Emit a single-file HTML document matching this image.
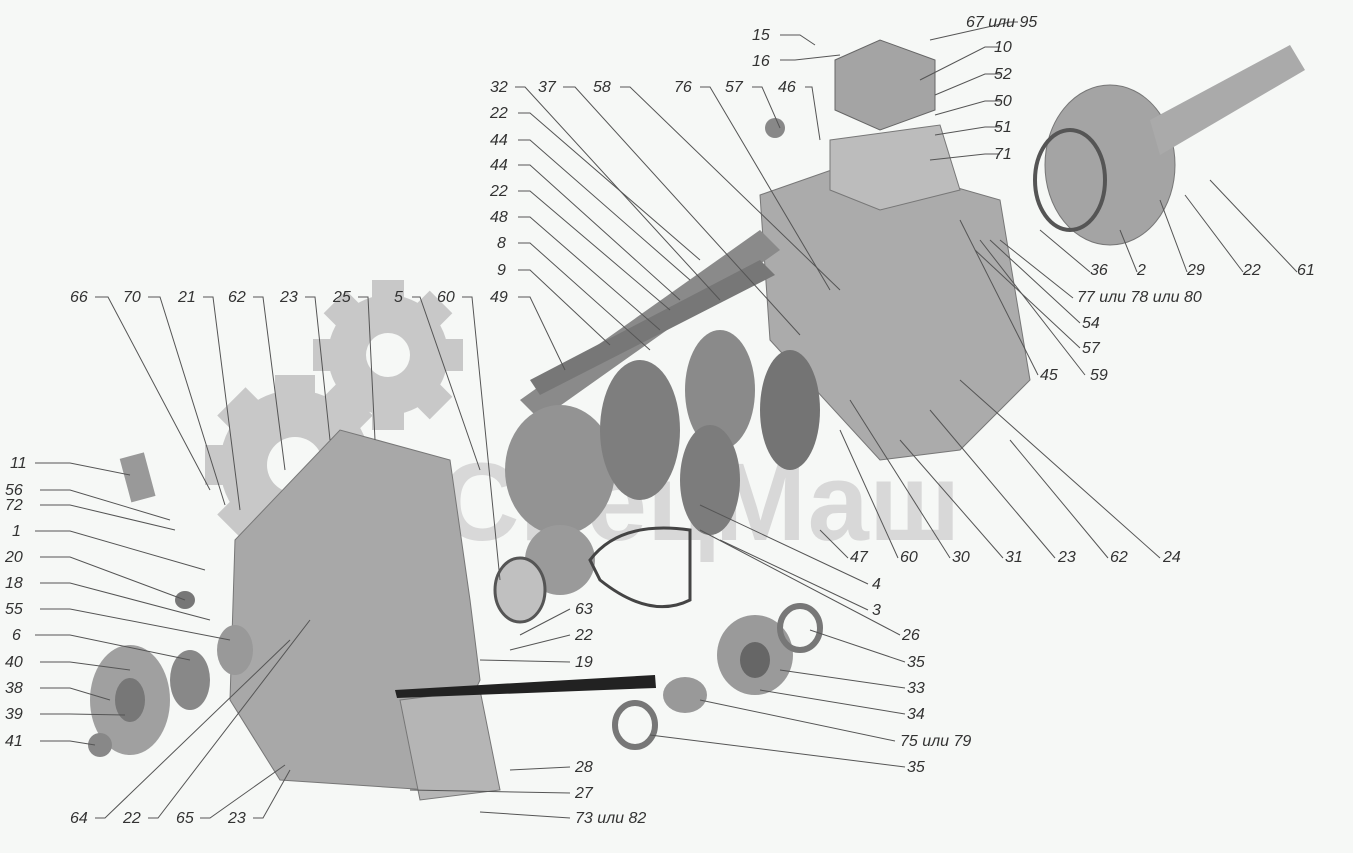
<!DOCTYPE html>
<html><head><meta charset="utf-8"><style>
html,body{margin:0;padding:0;background:#f6f8f6;}
svg{display:block}
text{font-family:"Liberation Sans",sans-serif;font-style:italic;font-size:16px;fill:#333;}
.l{stroke:#555;stroke-width:1;fill:none}
</style></head><body>
<svg width="1353" height="853" viewBox="0 0 1353 853" xmlns="http://www.w3.org/2000/svg">
<rect width="1353" height="853" fill="#f6f8f6"/>
<g fill="#c8c8c8">
<circle cx="388" cy="355" r="60"/>
<rect x="372" y="280" width="32" height="150"/><rect x="313" y="339" width="150" height="32"/>
<rect x="372" y="280" width="32" height="150" transform="rotate(45 388 355)"/><rect x="372" y="280" width="32" height="150" transform="rotate(-45 388 355)"/>
<circle cx="295" cy="465" r="75"/>
<rect x="275" y="375" width="40" height="180"/><rect x="205" y="445" width="180" height="40"/>
<rect x="275" y="375" width="40" height="180" transform="rotate(45 295 465)"/><rect x="275" y="375" width="40" height="180" transform="rotate(-45 295 465)"/>
</g>
<circle cx="388" cy="355" r="22" fill="#f6f8f6"/><circle cx="295" cy="465" r="28" fill="#f6f8f6"/>
<text x="440" y="540" style="font-size:110px;font-style:normal;fill:#d8d8d8;font-weight:bold">СпецМаш</text>
<polygon points="760,195 860,160 1000,200 1030,380 960,450 880,460 770,340" fill="#ababab" stroke="#777"/>
<polygon points="830,140 940,125 960,190 880,210 830,190" fill="#bcbcbc" stroke="#777"/>
<polygon points="835,60 880,40 935,60 935,110 880,130 835,110" fill="#a4a4a4" stroke="#666"/>
<polygon points="520,400 760,230 780,250 540,420" fill="#8a8a8a"/>
<polygon points="530,380 760,260 775,275 540,395" fill="#777"/>
<ellipse cx="560" cy="470" rx="55" ry="65" fill="#939393"/>
<ellipse cx="640" cy="430" rx="40" ry="70" fill="#7e7e7e"/>
<ellipse cx="720" cy="390" rx="35" ry="60" fill="#8a8a8a"/>
<ellipse cx="790" cy="410" rx="30" ry="60" fill="#747474"/>
<ellipse cx="710" cy="480" rx="30" ry="55" fill="#7c7c7c"/>
<ellipse cx="560" cy="560" rx="35" ry="35" fill="#9a9a9a"/>
<ellipse cx="520" cy="590" rx="25" ry="32" fill="#c0c0c0" stroke="#555" stroke-width="3"/>
<path d="M590,560 Q620,520 690,530 L690,600 Q650,620 600,580Z" fill="none" stroke="#444" stroke-width="3"/>
<ellipse cx="1110" cy="165" rx="65" ry="80" fill="#a4a4a4" stroke="#777"/>
<ellipse cx="1070" cy="180" rx="35" ry="50" fill="none" stroke="#555" stroke-width="4"/>
<polygon points="1150,120 1290,45 1305,70 1160,155" fill="#aaa"/>
<polygon points="235,540 340,430 450,460 470,600 480,680 430,790 280,780 230,700" fill="#a8a8a8" stroke="#777"/>
<polygon points="400,700 480,690 500,790 420,800" fill="#b5b5b5" stroke="#777"/>
<ellipse cx="130" cy="700" rx="40" ry="55" fill="#a0a0a0"/>
<ellipse cx="130" cy="700" rx="15" ry="22" fill="#777"/>
<ellipse cx="190" cy="680" rx="20" ry="30" fill="#888"/>
<ellipse cx="235" cy="650" rx="18" ry="25" fill="#999"/>
<ellipse cx="100" cy="745" rx="12" ry="12" fill="#888"/>
<rect x="125" y="455" width="25" height="45" fill="#999" transform="rotate(-15 137 477)"/>
<ellipse cx="185" cy="600" rx="10" ry="9" fill="#777"/>
<ellipse cx="755" cy="655" rx="38" ry="40" fill="#9a9a9a"/>
<ellipse cx="755" cy="660" rx="15" ry="18" fill="#666"/>
<ellipse cx="685" cy="695" rx="22" ry="18" fill="#999"/>
<ellipse cx="800" cy="628" rx="20" ry="22" fill="none" stroke="#777" stroke-width="6"/>
<ellipse cx="635" cy="725" rx="20" ry="22" fill="none" stroke="#777" stroke-width="6"/>
<polygon points="395,690 655,675 656,688 397,698" fill="#222"/>
<ellipse cx="775" cy="128" rx="10" ry="10" fill="#888"/>

<g class="l">
<path d="M780,35 H800 L815,45"/><path d="M1018,22 H1010 L930,40"/><path d="M780,60 H795 L840,55"/>
<path d="M1000,47 H985 L920,80"/><path d="M1000,74 H985 L935,95"/><path d="M1000,101 H985 L935,115"/><path d="M1000,127 H985 L935,135"/><path d="M1000,154 H985 L930,160"/>
<path d="M515,87 H525 L720,300"/><path d="M563,87 H575 L800,335"/><path d="M620,87 H630 L840,290"/><path d="M700,87 H710 L830,290"/><path d="M752,87 H762 L780,128"/><path d="M805,87 H812 L820,140"/>
<path d="M518,113 H530 L700,260"/><path d="M518,140 H530 L690,280"/><path d="M518,165 H530 L680,300"/><path d="M518,191 H530 L670,310"/><path d="M518,217 H530 L660,330"/><path d="M518,243 H530 L650,350"/><path d="M518,270 H530 L610,345"/><path d="M518,297 H530 L565,370"/>
<path d="M95,297 H108 L210,490"/><path d="M148,297 H160 L225,505"/><path d="M203,297 H213 L240,510"/><path d="M253,297 H263 L285,470"/><path d="M305,297 H315 L330,440"/><path d="M358,297 H368 L375,440"/><path d="M412,297 H420 L480,470"/><path d="M462,297 H472 L500,580"/>
<path d="M1090,272 L1040,230"/><path d="M1137,272 L1120,230"/><path d="M1187,272 L1160,200"/><path d="M1243,272 L1185,195"/><path d="M1297,272 L1210,180"/>
<path d="M1073,298 L1000,240"/><path d="M1080,323 L990,240"/><path d="M1080,348 L975,250"/><path d="M1038,375 L960,220"/><path d="M1085,375 L980,240"/>
<path d="M1108,558 L1010,440"/><path d="M1160,558 L960,380"/><path d="M1055,558 L930,410"/><path d="M1003,558 L900,440"/><path d="M950,558 L850,400"/><path d="M898,558 L840,430"/><path d="M848,558 L820,530"/>
<path d="M868,584 L700,505"/><path d="M868,610 L720,540"/><path d="M900,635 L700,530"/><path d="M905,662 L810,630"/><path d="M905,688 L780,670"/><path d="M905,714 L760,690"/><path d="M895,741 L700,700"/><path d="M905,767 L650,735"/>
<path d="M35,463 H70 L130,475"/><path d="M40,490 H70 L170,520"/><path d="M40,505 H70 L175,530"/><path d="M35,531 H70 L205,570"/><path d="M40,557 H70 L185,600"/><path d="M40,583 H70 L210,620"/><path d="M40,609 H70 L230,640"/><path d="M35,635 H70 L190,660"/><path d="M40,662 H70 L130,670"/><path d="M40,688 H70 L110,700"/><path d="M40,714 H70 L125,715"/><path d="M40,741 H70 L95,745"/>
<path d="M570,609 L520,635"/><path d="M570,635 L510,650"/><path d="M570,662 L480,660"/><path d="M570,767 L510,770"/><path d="M570,793 L410,790"/><path d="M570,818 L480,812"/>
<path d="M95,818 H105 L290,640"/><path d="M148,818 H158 L310,620"/><path d="M200,818 H210 L285,765"/><path d="M253,818 H263 L290,770"/>
</g>

<text x="752" y="40">15</text><text x="966" y="27">67 или 95</text><text x="752" y="66">16</text>
<text x="994" y="52">10</text><text x="994" y="79">52</text><text x="994" y="106">50</text><text x="994" y="132">51</text><text x="994" y="159">71</text>
<text x="490" y="92">32</text><text x="538" y="92">37</text><text x="593" y="92">58</text><text x="674" y="92">76</text><text x="725" y="92">57</text><text x="778" y="92">46</text>
<text x="490" y="118">22</text><text x="490" y="145">44</text><text x="490" y="170">44</text><text x="490" y="196">22</text><text x="490" y="222">48</text><text x="497" y="248">8</text><text x="497" y="275">9</text><text x="490" y="302">49</text>
<text x="70" y="302">66</text><text x="123" y="302">70</text><text x="178" y="302">21</text><text x="228" y="302">62</text><text x="280" y="302">23</text><text x="333" y="302">25</text><text x="394" y="302">5</text><text x="437" y="302">60</text>
<text x="1090" y="275">36</text><text x="1137" y="275">2</text><text x="1187" y="275">29</text><text x="1243" y="275">22</text><text x="1297" y="275">61</text>
<text x="1077" y="302">77 или 78 или 80</text><text x="1082" y="328">54</text><text x="1082" y="353">57</text><text x="1040" y="380">45</text><text x="1090" y="380">59</text>
<text x="850" y="562">47</text><text x="900" y="562">60</text><text x="952" y="562">30</text><text x="1005" y="562">31</text><text x="1058" y="562">23</text><text x="1110" y="562">62</text><text x="1163" y="562">24</text>
<text x="872" y="589">4</text><text x="872" y="615">3</text><text x="902" y="640">26</text><text x="907" y="667">35</text><text x="907" y="693">33</text><text x="907" y="719">34</text><text x="900" y="746">75 или 79</text><text x="907" y="772">35</text>
<text x="10" y="468">11</text><text x="5" y="495">56</text><text x="5" y="510">72</text><text x="12" y="536">1</text><text x="5" y="562">20</text><text x="5" y="588">18</text><text x="5" y="614">55</text><text x="12" y="640">6</text><text x="5" y="667">40</text><text x="5" y="693">38</text><text x="5" y="719">39</text><text x="5" y="746">41</text>
<text x="575" y="614">63</text><text x="575" y="640">22</text><text x="575" y="667">19</text><text x="575" y="772">28</text><text x="575" y="798">27</text><text x="575" y="823">73 или 82</text>
<text x="70" y="823">64</text><text x="123" y="823">22</text><text x="176" y="823">65</text><text x="228" y="823">23</text>
</svg>
</body></html>
